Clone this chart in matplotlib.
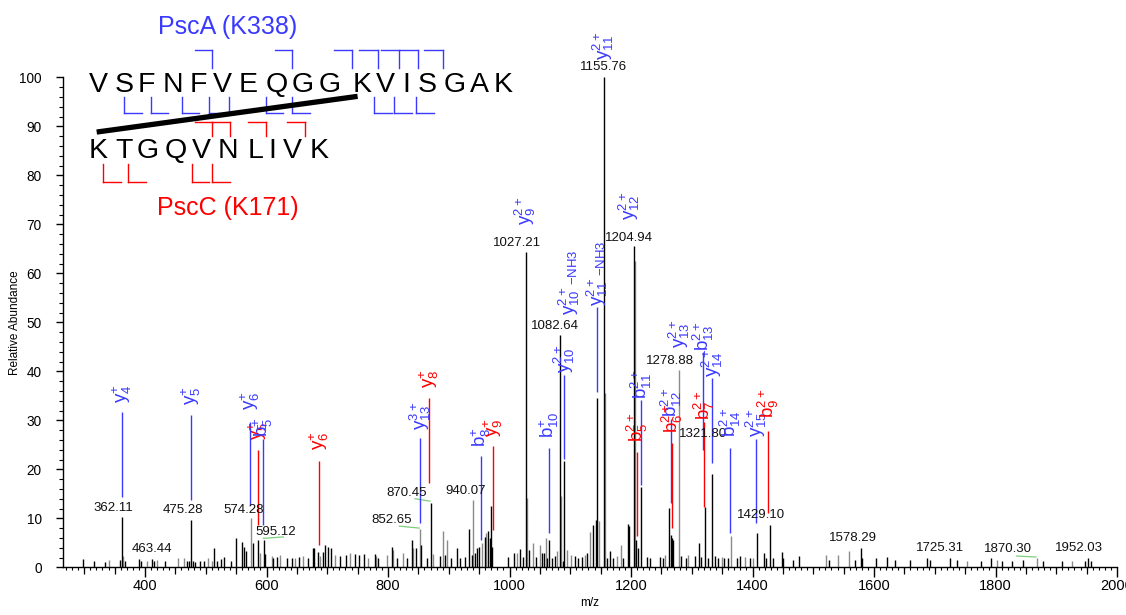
import matplotlib
matplotlib.use("Agg")
import matplotlib.pyplot as plt
from matplotlib.lines import Line2D
from matplotlib.ticker import MultipleLocator, FixedLocator, NullFormatter

plt.rcParams['font.family'] = ['Liberation Sans', 'DejaVu Sans']
plt.rcParams['mathtext.fontset'] = 'custom'
plt.rcParams['mathtext.rm'] = 'Liberation Sans'

# ---------------- data ----------------
black_mz = [298.4, 316.5, 334, 358.8, 362.11, 367, 390, 393.4, 411, 414.8, 433, 468.6, 472,
            475.28, 478.4, 482, 490.5, 497.6, 514, 518, 525.6, 530.6, 541.6, 549.8, 559.7, 563,
            566, 578.3, 586.5, 595.12, 597.5, 611, 617.7, 633, 641.5, 654, 668.8, 676, 678, 685,
            693.5, 696, 701.7, 705.6, 721, 730.9, 745.7, 752.7, 760.5, 778.6, 784, 806, 814,
            830.8, 839, 846, 855, 863.7, 870.45, 885.6, 893.8, 903, 913, 918.5, 926.7, 933.8,
            937.8, 943, 947, 950.3, 959.7, 965, 968, 970, 972, 997.5, 1007, 1017, 1022, 1027.21,
            1032, 1043.6, 1052.9, 1056.8, 1061, 1065, 1069.5, 1074.9, 1082.64, 1088.6, 1090,
            1107.8, 1113, 1119, 1127, 1138, 1142, 1144, 1155.76, 1160, 1165.4, 1171, 1187.4,
            1195.6, 1197.3, 1204.94, 1208, 1210.9, 1216, 1225.8, 1231, 1248, 1252, 1263, 1265.5,
            1267, 1268.6, 1283, 1290.5, 1305, 1312.4, 1316, 1321.80, 1327, 1333.8, 1338, 1343.7,
            1353, 1360, 1374, 1379.4, 1396, 1407.9, 1419, 1421.7, 1429.10, 1434, 1448, 1450,
            1466, 1477, 1526.5, 1568.7, 1578.29, 1580.7, 1604, 1622, 1634.6, 1660, 1686.7, 1692,
            1725.31, 1736, 1775.5, 1792, 1810, 1826.6, 1844.6, 1878.6, 1910, 1947.3, 1952.03,
            1958]
black_int = [1.6, 1.2, 1.0, 1.4, 10.3, 1.2, 1.6, 1.2, 1.6, 1.2, 1.3, 1.3, 1.2,
             9.7, 1.2, 1.0, 1.2, 1.3, 4.0, 1.3, 1.6, 2.2, 1.3, 6.0, 5.1, 4.1,
             3.3, 5.0, 5.5, 5.5, 2.8, 2.0, 2.1, 1.8, 1.8, 2.1, 2.0, 4.0, 4.0, 3.1,
             3.1, 4.5, 4.2, 3.9, 2.4, 2.5, 2.8, 2.5, 2.7, 2.8, 2.0, 4.1, 2.0,
             2.0, 5.5, 4.0, 4.5, 1.8, 13.2, 2.4, 2.6, 2.0, 3.9, 2.0, 2.2, 7.9,
             2.5, 3.0, 3.9, 4.2, 6.2, 7.5, 5.9, 12.6, 4.2, 2.2, 3.0, 3.8, 2.2, 64.3,
             3.6, 2.2, 3.0, 2.9, 2.0, 5.5, 2.0, 2.4, 47.4, 1.2, 21.7,
             2.4, 2.0, 2.2, 3.0, 8.7, 9.7, 34.5, 100.0, 1.8, 3.4, 1.8, 2.0,
             8.9, 8.5, 65.5, 5.5, 3.9, 16.4, 2.1, 1.8, 2.2, 2.0, 12.2, 6.5,
             6.0, 5.5, 2.4, 1.8, 2.4, 4.9, 2.2, 12.3, 2.0, 19.0, 2.4, 2.0,
             1.8, 2.0, 2.0, 2.4, 1.8, 7.1, 2.9, 2.0, 8.7, 1.8, 3.1, 2.0,
             1.5, 2.4, 1.5, 1.5, 4.0, 2.0, 2.0, 2.2, 1.5, 1.5, 1.8, 1.5,
             2.0, 1.5, 1.3, 1.8, 1.3, 1.2, 1.5, 1.2, 1.3, 1.3, 2.0,
             1.2]

gray_mz = [341, 364.3, 402.8, 419.2, 455, 463.44, 504, 509.8, 574.28, 590, 608.5, 622, 647,
           660.6, 688, 712.8, 737.4, 767.6, 780, 797.8, 808.6, 825, 841.7, 852.65, 874, 890,
           896.6, 940.07, 954, 962, 1011.8, 1028.5, 1038.7, 1050, 1060, 1077.7, 1084, 1094,
           1102, 1124, 1132.5, 1147, 1157, 1176.5, 1183, 1206.5, 1256, 1278.88, 1294, 1349,
           1364.6, 1387.6, 1401.3, 1521, 1540, 1559, 1752.6, 1802, 1867.8, 1925.4]
gray_int = [1.5, 2.4, 1.2, 1.5, 1.8, 1.8, 2.0, 1.3, 10.0, 3.0, 2.4, 2.5, 2.0,
            2.4, 2.4, 2.5, 2.9, 2.0, 2.4, 2.5, 3.5, 3.0, 4.0, 7.9, 2.8, 7.5,
            5.5, 13.8, 5.0, 6.9, 3.0, 14.2, 5.0, 4.5, 6.0, 3.4, 14.6, 3.5,
            2.6, 2.6, 7.3, 9.5, 35.5, 2.4, 4.5, 62.5, 2.5, 40.2, 2.6, 2.2,
            6.3, 2.2, 2.0, 2.6, 2.6, 3.4, 1.3, 1.5, 1.8, 1.3]

# m/z labels (text, centre x in m/z, centre y in %)
mz_text = ["362.11", "463.44", "475.28", "574.28", "595.12", "852.65", "870.45", "940.07",
           "1027.21", "1082.64", "1155.76", "1204.94", "1278.88", "1321.80", "1429.10",
           "1578.29", "1725.31", "1870.30", "1952.03"]
mz_text_x = [347.3, 411, 462.5, 561.8, 615.6, 806, 830.8, 927.6, 1012.6, 1074.5, 1154.5,
             1196.7, 1264, 1319, 1414, 1564.6, 1709, 1820, 1937]
mz_text_y = [12.2, 3.7, 11.7, 11.7, 7.3, 9.6, 15.2, 15.5, 66.1, 49.3, 102.1, 67.2, 42.0,
             27.3, 10.7, 6.0, 3.9, 3.7, 3.9]

# green leader lines (x0, y0, x1, y1)
leader_x0 = [594.8, 818.6, 844.4, 1834.8]
leader_y0 = [5.9, 8.4, 14.0, 2.3]
leader_x1 = [627.7, 851.5, 869.1, 1866.7]
leader_y1 = [6.2, 8.0, 13.5, 2.1]

# fragment ion annotations
ion_mz = [362.1, 475.7, 572.8, 586.0, 594.2, 686.4, 852.7, 867.5, 953.1, 972.8, 1065.0,
          1089.7, 1144.0, 1209.9, 1216.5, 1265.8, 1267.5, 1318.5, 1320.2, 1333.3, 1362.9,
          1405.8, 1425.6, 1025.5, 1098.0, 1154.0, 1198.0, 1279.0]
ion_lo = [14.3, 13.7, 12.7, 8.6, 8.6, 4.6, 9.0, 17.2, 5.6, 7.6, 7.0,
          22.1, 35.8, 6.4, 16.8, 13.1, 8.0, 23.9, 12.3, 21.3, 7.0,
          9.0, 11.1, 0, 0, 0, 0, 0]
ion_hi = [31.6, 31.1, 29.7, 23.9, 26.1, 21.7, 26.4, 34.6, 22.7, 24.8, 24.4,
          39.3, 53.1, 23.5, 34.1, 30.3, 25.4, 44.0, 29.7, 38.6, 24.4,
          26.2, 27.8, 0, 0, 0, 0, 0]
ion_lab_y = [33.5, 33.1, 32.1, 26.0, 26.6, 23.9, 28.0, 36.6, 24.6, 26.6, 26.4,
             39.7, 53.4, 25.6, 34.4, 30.6, 27.4, 44.2, 30.1, 38.9, 26.6,
             26.6, 30.5, 69.8, 51.5, 103.5, 70.9, 44.8]
ion_text = [r'y_{4}^{+}', r'y_{5}^{+}', r'y_{6}^{+}', r'y_{5}^{+}', r'b_{5}^{+}', r'y_{6}^{+}',
            r'y_{13}^{3+}', r'y_{8}^{+}', r'b_{8}^{+}', r'y_{9}^{+}', r'b_{10}^{+}',
            r'y_{10}^{2+}', r'y_{11}^{2+}{}_{-NH3}', r'b_{5}^{2+}', r'b_{11}^{2+}', r'b_{12}^{2+}',
            r'b_{6}^{2+}', r'b_{13}^{2+}', r'b_{7}^{2+}', r'y_{14}^{2+}', r'b_{14}^{2+}',
            r'y_{15}^{2+}', r'b_{9}^{2+}', r'y_{9}^{2+}', r'y_{10}^{2+}{}_{-NH3}', r'y_{11}^{2+}',
            r'y_{12}^{2+}', r'y_{13}^{2+}']
ion_peptide = ['A', 'A', 'A', 'C', 'A', 'C', 'A', 'C', 'A', 'C', 'A',
               'A', 'A', 'C', 'A', 'A', 'C', 'A', 'C', 'A', 'A',
               'A', 'C', 'A', 'A', 'A', 'A', 'A']

seq_A = list("VSFNFVEQGGKVISGAK")
seq_C = list("KTGQVNLIVK")
title_A = "PscA (K338)"
title_C = "PscC (K171)"

BLUE = '#3a3aff'
RED = '#ff0000'
GRAY = '#8a8a8a'
GREEN = '#7ccf7c'

W, H = 1126, 615
fig = plt.figure(figsize=(W / 100, H / 100), dpi=100)
ax = fig.add_axes([63 / W, 1 - 567.3 / H, (1117 - 63) / W, (567.3 - 77.3) / H])
ax.set_xlim(265, 2000)
ax.set_ylim(0, 100)

ax.vlines(gray_mz, 0, gray_int, color=GRAY, lw=1.0)
ax.vlines(black_mz, 0, black_int, color='black', lw=1.0)

for t, x, y in zip(mz_text, mz_text_x, mz_text_y):
    ax.text(x, y, t, ha='center', va='center', fontsize=9.5, color='#111111', clip_on=False)

for x0, y0, x1, y1 in zip(leader_x0, leader_y0, leader_x1, leader_y1):
    ax.plot([x0, x1], [y0, y1], color=GREEN, lw=0.9, clip_on=False)

for mz, lo, hi, ly, txt, pep in zip(ion_mz, ion_lo, ion_hi, ion_lab_y, ion_text, ion_peptide):
    col = BLUE if pep == 'A' else RED
    if hi > lo:
        ax.vlines(mz, lo, hi, color=col, lw=1.0, clip_on=False)
    ax.text(mz, ly, r'$\mathregular{' + txt + '}$', rotation=90, ha='center', va='bottom',
            color=col, fontsize=13.5, clip_on=False)

# axes styling
for s in ['top', 'right']:
    ax.spines[s].set_visible(False)
ax.spines['left'].set_linewidth(1.0)
ax.spines['bottom'].set_linewidth(1.0)
ax.xaxis.set_major_locator(MultipleLocator(200))
ax.xaxis.set_minor_locator(MultipleLocator(10))
ax.yaxis.set_major_locator(MultipleLocator(10))
ax.yaxis.set_minor_locator(MultipleLocator(2))
ax.tick_params(axis='x', which='major', length=7.2, width=1.0, labelsize=10.5, pad=1.5)
ax.tick_params(axis='x', which='minor', length=2.3, width=0.8)
ax.tick_params(axis='y', which='major', length=4.8, width=1.0, labelsize=9.8, pad=10.5)
ax.tick_params(axis='y', which='minor', length=2.9, width=0.8)
sec = ax.secondary_xaxis('bottom')
sec.xaxis.set_major_locator(FixedLocator([v for v in range(300, 2001, 50) if v % 200 != 0]))
sec.xaxis.set_major_formatter(NullFormatter())
sec.tick_params(length=5, width=0.9)
sec.spines['bottom'].set_visible(False)

ax.set_xlabel('m/z', fontsize=8.5)
ax.xaxis.set_label_coords(0.5, (567.3 - 597) / 490)
ax.set_ylabel('Relative Abundance', fontsize=8.5)
ax.yaxis.set_label_coords((21 - 63) / 1054, 0.5)


# ---------------- sequence diagram (figure pixel layout) ----------------
def fx(px):
    return px / W


def fy(py):
    return 1 - py / H


def seg(x0, y0, x1, y1, col, lw=1.0):
    fig.add_artist(Line2D([fx(x0), fx(x1)], [fy(y0), fy(y1)], color=col, lw=lw,
                          transform=fig.transFigure))


seqA_x = [98.3, 124, 146.7, 172.5, 198, 222.5, 248, 276.7, 303, 330, 361.7, 385, 406,
          426.7, 455, 479, 503.3]
seqC_x = [98.3, 124, 147.5, 176, 201.7, 228.3, 255.8, 272.5, 292.5, 319]
for ch, x in zip(seq_A, seqA_x):
    fig.text(fx(x), fy(91.7), ch, fontsize=20.5, ha='center', va='baseline', color='black')
for ch, x in zip(seq_C, seqC_x):
    fig.text(fx(x), fy(158.3), ch, fontsize=20.5, ha='center', va='baseline', color='black')
fig.text(fx(227.5), fy(26.7), title_A, fontsize=18, ha='center', va='center', color=BLUE)
fig.text(fx(228.3), fy(208.3), title_C, fontsize=18, ha='center', va='center', color=RED)

blue_top = [(195, 212.3), (275, 292.3), (334.3, 352.3), (359.3, 377.7), (381, 399),
            (400, 418.3), (424.3, 442.7)]
for x0, x1 in blue_top:
    seg(x0, 50, x1, 50, BLUE)
    seg(x1, 50, x1, 68.3, BLUE)

blue_bot = [(124, 141.7), (151, 167.7), (181.7, 199.3), (209.3, 227.3), (265.7, 283.3),
            (292.3, 310), (374, 391.7), (394.3, 412.3), (416, 434.3)]
for x0, x1 in blue_bot:
    seg(x0, 97, x0, 113, BLUE)
    seg(x0, 113, x1, 113, BLUE)
seg(229.3, 97, 229.3, 113, BLUE)

red_top = [(195, 212.3), (212.3, 230), (248.3, 265.7), (287.3, 305)]
for x0, x1 in red_top:
    seg(x0, 121.7, x1, 121.7, RED)
    seg(x1, 121.7, x1, 136, RED)

red_bot = [(103.3, 120.7), (128.3, 146), (191.7, 209.3), (212.3, 230)]
for x0, x1 in red_bot:
    seg(x0, 164, x0, 181.7, RED)
    seg(x0, 181.7, x1, 181.7, RED)

seg(99.3, 131.7, 355, 96.7, 'black', lw=3.8)

fig.savefig('out.png', dpi=100)
